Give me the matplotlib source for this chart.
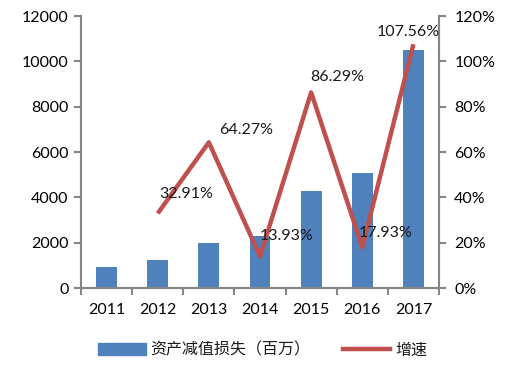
import numpy as np
import matplotlib.pyplot as plt
from matplotlib.ticker import FuncFormatter
from matplotlib.patches import Patch
from matplotlib.lines import Line2D

plt.rcParams['font.family'] = ['Lato', 'Noto Sans CJK SC', 'DejaVu Sans']
plt.rcParams['text.color'] = '#1a1a1a'

# data
years = ['2011', '2012', '2013', '2014', '2015', '2016', '2017']
loss = [910, 1220, 2000, 2280, 4280, 5060, 10500]        # 资产减值损失（百万）
growth_years = ['2012', '2013', '2014', '2015', '2016', '2017']
growth = [32.91, 64.27, 13.93, 86.29, 17.93, 107.56]      # 增速 %
# label offsets in pixels (dx, dy) relative to each point
label_off = [(28, 19), (37, 12), (27, 20), (26, 15), (23, 14), (-5, 12)]

bar_color = '#4F81BD'
line_color = '#C0504D'
spine_color = '#868686'
fs = 11.5

fig = plt.figure(figsize=(5.2, 3.74), dpi=100)
ax = fig.add_axes([81 / 520, 1 - 288 / 374, 358 / 520, 272 / 374])
ax2 = ax.twinx()

x = np.arange(len(years))
ax.bar(x, loss, width=0.41, color=bar_color, zorder=2)
ax.set_xlim(-0.5, len(years) - 0.5)
ax.set_ylim(0, 12000)
ax.set_yticks(np.arange(0, 12001, 2000))
ax.set_xticks(x)
ax.set_xticklabels(years)
ax.set_xticks(np.arange(-0.5, len(years), 1), minor=True)
ax.tick_params(axis='x', which='major', length=0, pad=11, labelsize=fs)
ax.tick_params(axis='x', which='minor', length=5, width=1.5, color=spine_color)
ax.tick_params(axis='y', length=5, width=1.5, color=spine_color, labelsize=fs, pad=4)

gx = [years.index(y) for y in growth_years]
ax2.plot(gx, growth, color=line_color, lw=3.2, solid_capstyle='butt', zorder=3)
ax2.set_ylim(0, 120)
ax2.set_yticks(np.arange(0, 121, 20))
ax2.yaxis.set_major_formatter(FuncFormatter(lambda v, p: f'{v:.0f}%'))
ax2.tick_params(axis='y', length=5, width=1.5, color=spine_color, labelsize=fs, pad=6)

for xi, g, (dx, dy) in zip(gx, growth, label_off):
    ax2.annotate(f'{g:.2f}%', (xi, g), xytext=(dx * 0.72, dy * 0.72),
                 textcoords='offset points', ha='center', va='center', fontsize=fs)

for a in (ax, ax2):
    a.spines['top'].set_visible(False)
    for s in ('left', 'right', 'bottom'):
        a.spines[s].set_color(spine_color)
        a.spines[s].set_linewidth(1.5)

handles = [Patch(color=bar_color), Line2D([0], [0], color=line_color, lw=3.2)]
fig.legend(handles, ['资产减值损失（百万）', '增速'], loc='center', bbox_to_anchor=(0.505, 1 - 350 / 374),
           ncol=2, frameon=False, handlelength=3.0, handleheight=0.75, handletextpad=0.3,
           columnspacing=2.0, prop={'family': ['Noto Sans CJK SC'], 'size': fs})

fig.savefig('out.png', dpi=100)
